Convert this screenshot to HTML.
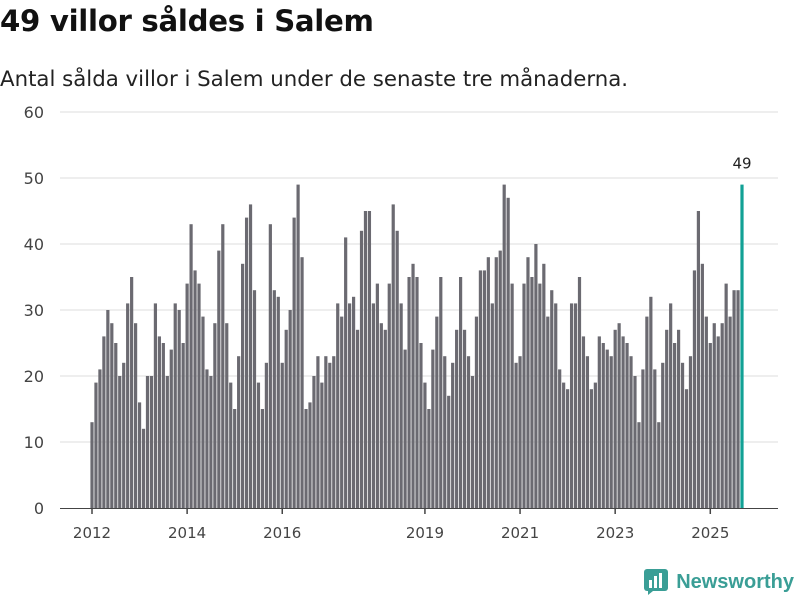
<!DOCTYPE html>
<html><head><meta charset="utf-8"><style>
body{margin:0;width:800px;height:600px;background:#fff;font-family:"DejaVu Sans",sans-serif;overflow:hidden;position:relative}
#title{position:absolute;left:0;top:4px;font-size:29.2px;font-weight:bold;color:#111;margin:0;letter-spacing:-0.3px}
#sub{position:absolute;left:0;top:67px;font-size:21.3px;color:#222}
#logo{position:absolute;right:6px;top:569px;font-size:20px;font-weight:bold;color:#3a9e96;display:flex;align-items:center;gap:8px;font-family:"Liberation Sans",sans-serif}
</style></head><body>
<h1 id="title">49 villor såldes i Salem</h1>
<div id="sub">Antal sålda villor i Salem under de senaste tre månaderna.</div>
<svg id="chart" width="800" height="600" style="position:absolute;left:0;top:0"></svg>
<div id="logo"><svg width="24" height="26" viewBox="0 0 24 26"><rect x="0" y="0" width="24" height="22" rx="3" fill="#3a9e96"/><rect x="5" y="11" width="3" height="8" fill="#fff"/><rect x="10" y="7" width="3" height="12" fill="#fff"/><rect x="15" y="4" width="3" height="15" fill="#fff"/><path d="M4 22 L4 26 L9 22Z" fill="#3a9e96"/></svg><span>Newsworthy</span></div>
<script>
const startYear = 2012;
const values = [13,19,21,26,30,28,25,20,22,31,35,28,
16,12,20,20,31,26,25,20,24,31,30,25,
34,43,36,34,29,21,20,28,39,43,28,19,
15,23,37,44,46,33,19,15,22,43,33,32,
22,27,30,44,49,38,15,16,20,23,19,23,
22,23,31,29,41,31,32,27,42,45,45,31,
34,28,27,34,46,42,31,24,35,37,35,25,
19,15,24,29,35,23,17,22,27,35,27,23,
20,29,36,36,38,31,38,39,49,47,34,22,
23,34,38,35,40,34,37,29,33,31,21,19,
18,31,31,35,26,23,18,19,26,25,24,23,
27,28,26,25,23,20,13,21,29,32,21,13,
22,27,31,25,27,22,18,23,36,45,37,29,
25,28,26,28,34,29,33,33,49];
const yTicks = [0,10,20,30,40,50,60];
const xTickYears = [2012,2014,2016,2019,2021,2023,2025];
const NS="http://www.w3.org/2000/svg";
const svg=document.getElementById('chart');
const x0=92,x1=742,yBase=508,yTop=112;
const n=values.length;
const step=(x1-x0)/(n-1);
const xs=i=>x0+i*step;
const ys=v=>yBase-(v/60)*(yBase-yTop);
function mk(t,a){const e=document.createElementNS(NS,t);for(const k in a)e.setAttribute(k,a[k]);svg.appendChild(e);return e;}
yTicks.forEach(t=>{
 if(t>0){const g=mk('line',{x1:60,x2:778,y1:ys(t),y2:ys(t),stroke:'#ddd','stroke-width':1});
 
 }
 const l=mk('text',{x:44,y:ys(t)+6,'text-anchor':'end','font-size':16,fill:'#444','font-family':'DejaVu Sans, sans-serif'});
 l.textContent=t;
 
 
});
values.forEach((v,i)=>{
 const last=i===n-1;
 const r=mk('rect',{x:xs(i)-1.6,y:ys(v),width:3.2,height:yBase-ys(v),fill:last?'#12a195':'#6b6a71'});
 
 
});
const ax=mk('line',{x1:60,x2:778,y1:yBase+0.5,y2:yBase+0.5,stroke:'#444','stroke-width':1});


xTickYears.forEach(yr=>{
 const xi=xs((yr-startYear)*12);
 const tk=mk('line',{x1:xi,x2:xi,y1:yBase,y2:yBase+6,stroke:'#444','stroke-width':1.5});
 
 
 const l=mk('text',{x:xi,y:538,'text-anchor':'middle','font-size':15,fill:'#444','font-family':'DejaVu Sans, sans-serif'});
 l.textContent=yr;
 
 
});
const lv=mk('text',{x:xs(n-1),y:ys(values[n-1])-16,'text-anchor':'middle','font-size':15,fill:'#222','font-family':'DejaVu Sans, sans-serif'});
lv.textContent=values[n-1];


</script>
</body></html>
